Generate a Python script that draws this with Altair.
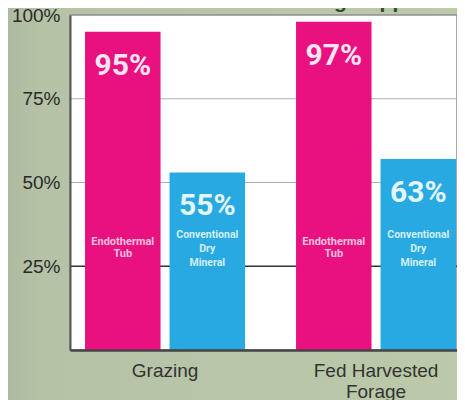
import altair as alt
import pandas as pd

# ---- data ----
groups = ["Grazing", "Grazing", "Fed Harvested Forage", "Fed Harvested Forage"]
supplements = ["Endothermal Tub", "Conventional Dry Mineral",
               "Endothermal Tub", "Conventional Dry Mineral"]
bar_heights = [95, 53, 98, 57]          # drawn bar heights (percent)
value_labels = ["95%", "55%", "97%", "63%"]
descriptors = ["Endothermal\nTub", "Conventional\nDry\nMineral",
               "Endothermal\nTub", "Conventional\nDry\nMineral"]
group_order = ["Grazing", "Fed Harvested Forage"]
supp_order = ["Endothermal Tub", "Conventional Dry Mineral"]
y_ticks = [25, 50, 75, 100]
grid_values = [25, 50, 75]
title_text = "Percent of Cows Consuming Supplement"

df = pd.DataFrame({
    "group": groups,
    "supplement": supplements,
    "value": bar_heights,
    "label": value_labels,
    "desc": descriptors,
})
grid_df = pd.DataFrame({"value": grid_values})

PINK = "#e8117f"
BLUE = "#29a9e1"
NARROW = "Roboto, Liberation Sans, sans-serif"
SANS = "Liberation Sans, Arial, Helvetica, sans-serif"

x_enc = alt.X(
    "group:N",
    sort=group_order,
    scale=alt.Scale(domain=group_order, paddingInner=0.2417,
                    paddingOuter=0.0379, align=0.94),
    axis=alt.Axis(
        title=None, labelAngle=0, ticks=False, zindex=1,
        domainColor="#444444", domainWidth=2.5,
        labelFont=SANS, labelFontSize=19, labelColor="#333333",
        labelPadding=11, labelBaseline="top", labelLineHeight=21,
        labelExpr="datum.label == 'Fed Harvested Forage' ? ['Fed Harvested', 'Forage'] : datum.label",
    ),
)
xoff_enc = alt.XOffset(
    "supplement:N",
    sort=supp_order,
    scale=alt.Scale(domain=supp_order, paddingInner=0.1065, paddingOuter=0),
)
y_scale = alt.Scale(domain=[0, 100], nice=False)
y_enc = alt.Y(
    "value:Q",
    scale=y_scale,
    axis=alt.Axis(
        title=None, values=y_ticks, ticks=False, grid=False, zindex=1,
        labelExpr="datum.value + '%'",
        labelFont=SANS, labelFontSize=19, labelColor="#2a2a2a",
        labelPadding=10,
        domainColor="#555555", domainWidth=2,
    ),
)
color_enc = alt.Color(
    "supplement:N",
    scale=alt.Scale(domain=supp_order, range=[PINK, BLUE]),
    legend=None,
)

one_row = alt.Data(values=[{"k": 1}])

# sage page background (decoration) and white plot panel
bg = alt.Chart(one_row).mark_rect(
    color={"gradient": "linear", "x1": 0, "x2": 1, "y1": 0, "y2": 0,
           "stops": [{"offset": 0, "color": "#aab69b"},
                     {"offset": 0.1, "color": "#b5c2a6"},
                     {"offset": 1, "color": "#bccaa9"}]},
).encode(x=alt.value(-80), x2=alt.value(410), y=alt.value(-20), y2=alt.value(400))

panel = alt.Chart(one_row).mark_rect(
    fill="white", stroke="#8f8f8f", strokeWidth=1.5,
).encode(x=alt.value(0), x2=alt.value("width"), y=alt.value(0), y2=alt.value("height"))

grid = alt.Chart(grid_df).mark_rule().encode(
    y=alt.Y("value:Q", scale=y_scale),
    color=alt.condition("datum.value === 25", alt.value("#333333"), alt.value("#a9afba")),
    strokeWidth=alt.condition("datum.value === 25", alt.value(1.5), alt.value(1)),
)

base = alt.Chart(df)

bars = base.mark_bar().encode(x=x_enc, xOffset=xoff_enc, y=y_enc, color=color_enc)

pct_text = base.mark_text(
    font=NARROW, fontSize=30, fontWeight="bold", baseline="middle", dy=34,
).encode(
    x=x_enc, xOffset=xoff_enc, y=y_enc, text="label:N",
    color=alt.condition(alt.datum.supplement == "Endothermal Tub",
                        alt.value("#fde6f1"), alt.value("#e4f6fd")),
)

pink_desc = base.transform_filter(
    alt.datum.supplement == "Endothermal Tub"
).mark_text(
    font=NARROW, fontSize=11, fontWeight="bold", baseline="middle",
    lineBreak="\n", lineHeight=12.5, color="#f8c2de",
).encode(x=x_enc, xOffset=xoff_enc, y=alt.value(226.5), text="desc:N")

blue_desc = base.transform_filter(
    alt.datum.supplement == "Conventional Dry Mineral"
).mark_text(
    font=NARROW, fontSize=10.5, fontWeight="bold", baseline="middle",
    lineBreak="\n", lineHeight=14, color="#d3effb",
).encode(x=x_enc, xOffset=xoff_enc, y=alt.value(220), text="desc:N")

title = alt.Chart(alt.Data(values=[{"t": title_text}])).mark_text(
    font=SANS, fontSize=21, fontWeight="bold", color="#2e4d2b",
    baseline="alphabetic", align="center",
).encode(x=alt.value(197), y=alt.value(-7), text="t:N")

chart = alt.layer(bg, panel, grid, bars, pct_text, pink_desc, blue_desc, title).properties(
    width=387, height=335,
    autosize=alt.AutoSizeParams(type="none"),
    padding={"left": 62, "top": 7, "right": 0, "bottom": 50},
    background="#bac6a9",
).configure_view(
    stroke=None,
)

chart.save("out.html", embed_options={"renderer": "svg", "actions": False})
